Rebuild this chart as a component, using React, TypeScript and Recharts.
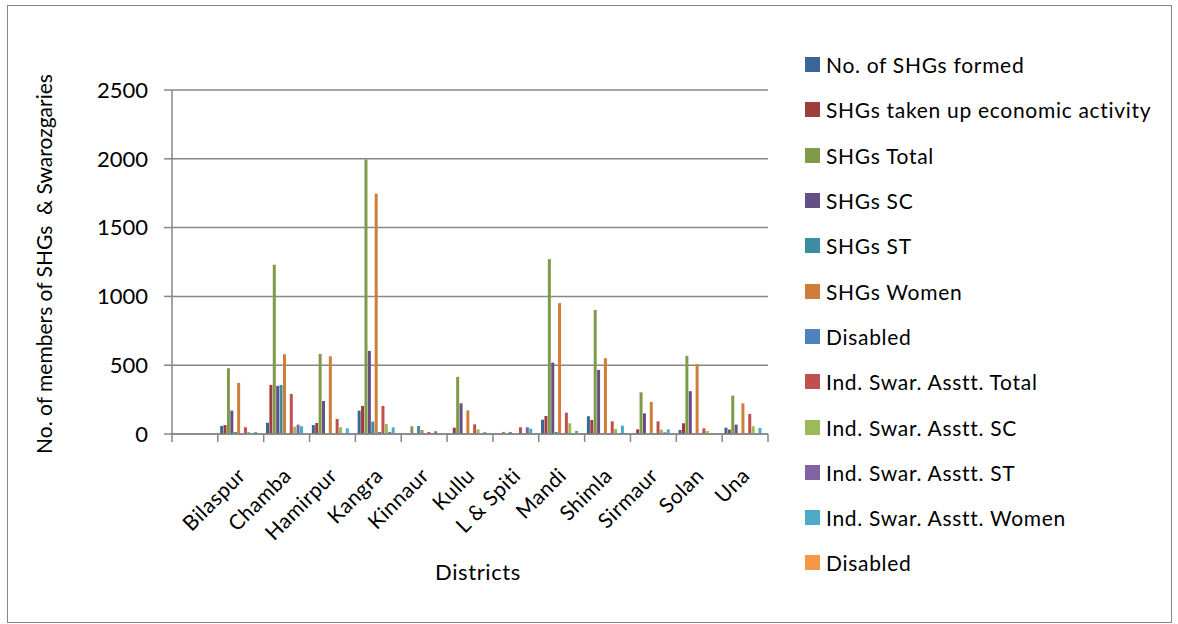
import React from 'react';
import { BarChart, Bar, XAxis, YAxis, CartesianGrid, Legend, Label } from 'recharts';

const districts = ['', 'Bilaspur', 'Chamba', 'Hamirpur', 'Kangra', 'Kinnaur', 'Kullu', 'L & Spiti', 'Mandi', 'Shimla', 'Sirmaur', 'Solan', 'Una'];

const shgsFormed = [0, 58, 82, 65, 170, 0, 0, 0, 104, 129, 5, 29, 46];
const shgsEconomic = [0, 65, 357, 80, 204, 0, 46, 0, 131, 102, 34, 78, 32];
const shgsTotal = [0, 478, 1230, 582, 1995, 56, 415, 15, 1271, 902, 303, 568, 279];
const shgsSC = [0, 170, 350, 240, 604, 0, 223, 0, 519, 466, 150, 311, 68];
const shgsST = [0, 15, 357, 0, 90, 58, 0, 15, 15, 0, 0, 2, 0];
const shgsWomen = [0, 371, 580, 565, 1747, 29, 172, 0, 951, 551, 233, 507, 223];
const shgsDisabled = [0, 0, 7, 0, 15, 0, 0, 0, 0, 0, 0, 0, 0];
const indTotal = [0, 49, 291, 109, 204, 15, 70, 49, 155, 92, 92, 41, 146];
const indSC = [0, 15, 53, 49, 73, 0, 34, 0, 78, 36, 32, 22, 56];
const indST = [0, 0, 68, 0, 15, 20, 0, 49, 0, 0, 12, 0, 0];
const indWomen = [0, 15, 56, 41, 49, 2, 15, 39, 22, 61, 34, 5, 44];
const indDisabled = [0, 0, 0, 0, 0, 0, 0, 0, 0, 0, 0, 0, 0];

const seriesNames = [
  'No. of SHGs formed',
  'SHGs taken up economic activity',
  'SHGs Total',
  'SHGs SC',
  'SHGs ST',
  'SHGs Women',
  'Disabled',
  'Ind. Swar. Asstt. Total',
  'Ind. Swar. Asstt. SC',
  'Ind. Swar. Asstt. ST',
  'Ind. Swar. Asstt. Women',
  'Disabled',
];
const seriesColors = [
  '#3C6597', '#9E3D3A', '#7F9A48', '#664E87', '#3A8DA3', '#D07D38',
  '#4F81BD', '#C0504D', '#9BBB59', '#8064A2', '#4BACC6', '#F79646',
];
const yTicks = [0, 500, 1000, 1500, 2000, 2500];

const seriesValues = [shgsFormed, shgsEconomic, shgsTotal, shgsSC, shgsST, shgsWomen, shgsDisabled, indTotal, indSC, indST, indWomen, indDisabled];

const data = districts.map((d, i) => {
  const row: Record<string, string | number> = { district: d };
  seriesValues.forEach((arr, j) => {
    row['s' + j] = arr[i];
  });
  return row;
});

const FONT = 'Lato, "Open Sans", sans-serif';
const GRID = '#868686';
const PLOT_LEFT = 172;
const PLOT_RIGHT = 768;
const BAND = (PLOT_RIGHT - PLOT_LEFT) / districts.length;

const XTick = (props: any) => {
  const { x, y, payload, index } = props;
  const ax = x + 6;
  const ay = y + 35;
  return (
    <g>
      <line x1={x - BAND / 2} y1={y - 8} x2={x - BAND / 2} y2={y} stroke={GRID} strokeWidth={1.5} />
      {index === districts.length - 1 && (
        <line x1={x + BAND / 2} y1={y - 8} x2={x + BAND / 2} y2={y} stroke={GRID} strokeWidth={1.5} />
      )}
      {payload.value !== '' && (
        <text x={ax} y={ay} textAnchor="end" transform={`rotate(-45, ${ax}, ${ay})`} fontSize={21} letterSpacing={0.5} fontFamily={FONT} fill="#000">
          {payload.value}
        </text>
      )}
    </g>
  );
};

const LegendContent = () => (
  <div style={{ fontFamily: FONT, fontSize: 21, letterSpacing: 0.7, color: '#000' }}>
    {seriesNames.map((n, i) => (
      <div key={i} style={{ height: 45.3, display: 'flex', alignItems: 'center', whiteSpace: 'nowrap' }}>
        <span style={{ display: 'inline-block', width: 15, height: 15, background: seriesColors[i], marginRight: 6 }} />
        <span>{n}</span>
      </div>
    ))}
  </div>
);

export default function App() {
  return (
    <div style={{ position: 'absolute', left: 0, top: 0, width: 1178, height: 624, background: '#fff' }}>
      <div style={{ position: 'absolute', left: 7, top: 5, width: 1163, height: 616, border: '1px solid #878787', pointerEvents: 'none' }} />
      <BarChart
        width={1178}
        height={624}
        data={data}
        margin={{ top: 90, right: 1178 - PLOT_RIGHT, bottom: 0, left: 0 }}
        barCategoryGap="5%"
        barGap={0.4}
      >
        <CartesianGrid vertical={false} stroke={GRID} strokeWidth={1.5} />
        <XAxis
          dataKey="district"
          height={190}
          interval={0}
          axisLine={{ stroke: GRID, strokeWidth: 1.5 }}
          tickLine={false}
          tick={<XTick />}
        >
          <Label
            content={() => (
              <text x={478} y={580} textAnchor="middle" fontSize={22} letterSpacing={0.6} fontFamily={FONT} fill="#000">
                Districts
              </text>
            )}
          />
        </XAxis>
        <YAxis
          width={PLOT_LEFT}
          domain={[0, 2500]}
          ticks={yTicks}
          interval={0}
          axisLine={{ stroke: GRID, strokeWidth: 1.5 }}
          tickLine={{ stroke: GRID, strokeWidth: 1.5 }}
          tickSize={8}
          tickMargin={16}
          tick={{ fontSize: 22, fontFamily: FONT, fill: '#000' }}
        >
          <Label
            content={() => (
              <text x={52} y={264} textAnchor="middle" transform="rotate(-90, 52, 264)" fontSize={21} fontFamily={FONT} fill="#000">
                No. of members of SHGs {'\u00A0'}& Swarozgaries
              </text>
            )}
          />
        </YAxis>
        <Legend
          layout="vertical"
          align="center"
          verticalAlign="middle"
          content={<LegendContent />}
          wrapperStyle={{ position: 'absolute', left: 805, top: 42, width: 370, height: 545 }}
        />
        {seriesNames.map((n, i) => (
          <Bar key={i} dataKey={'s' + i} name={n} fill={seriesColors[i]} isAnimationActive={false} />
        ))}
      </BarChart>
    </div>
  );
}
